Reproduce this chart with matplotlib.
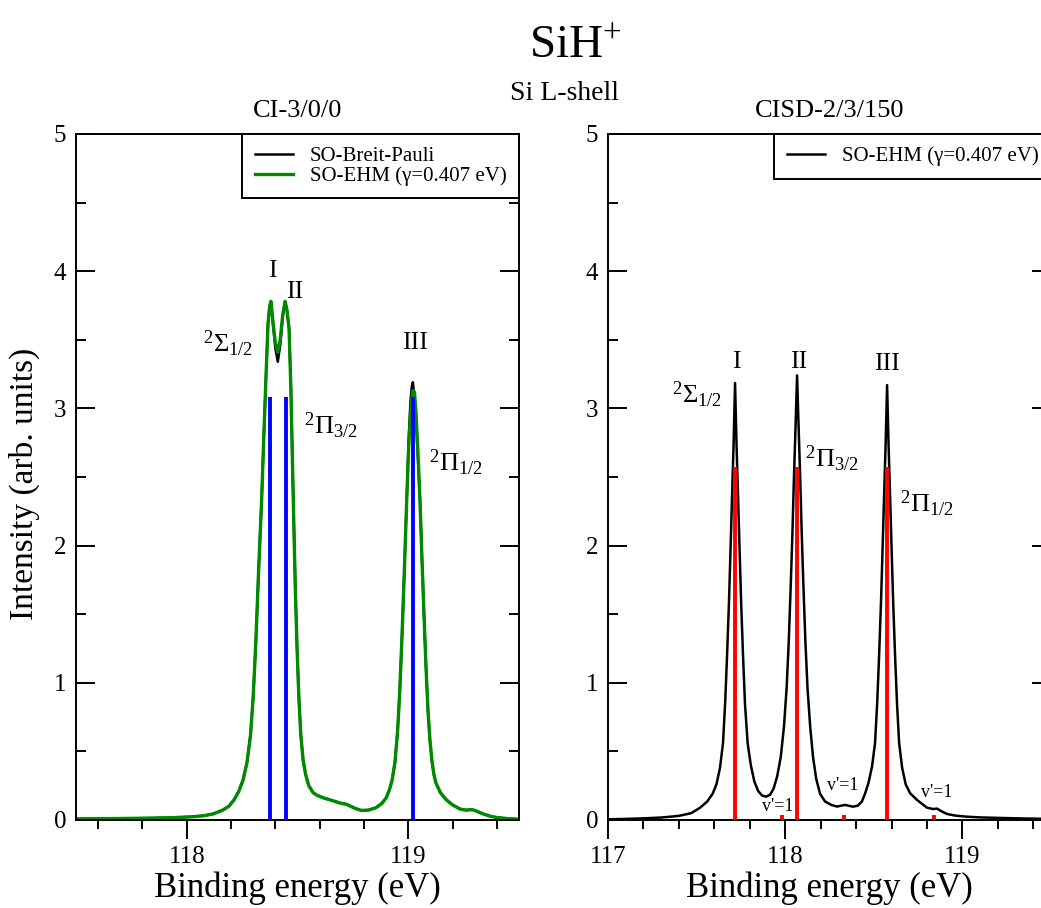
import matplotlib
matplotlib.use('Agg')
import matplotlib.pyplot as plt
from matplotlib.ticker import MultipleLocator

plt.rcParams['font.family'] = 'Liberation Serif'
plt.rcParams['mathtext.fontset'] = 'custom'
plt.rcParams['mathtext.rm'] = 'Liberation Serif'
plt.rcParams['mathtext.it'] = 'Liberation Serif:italic'

#---------------- left panel: CI-3/0/0 ----------------
e_left = [117.50, 117.70, 117.85, 117.95, 118.03, 118.08, 118.12, 118.16,
          118.19, 118.215, 118.235, 118.254, 118.272, 118.288, 118.300, 118.312,
          118.324, 118.338, 118.348, 118.357, 118.367, 118.374, 118.380, 118.390,
          118.400, 118.411, 118.422, 118.433, 118.444, 118.452, 118.462, 118.470,
          118.481, 118.490, 118.498, 118.506, 118.515, 118.525, 118.537, 118.551,
          118.570, 118.588, 118.620, 118.650, 118.680, 118.701, 118.720, 118.740,
          118.760, 118.787, 118.820, 118.855, 118.880, 118.900, 118.915, 118.927,
          118.940, 118.952, 118.962, 118.972, 118.982, 118.993, 119.002, 119.010,
          119.016, 119.021, 119.028, 119.035, 119.044, 119.053, 119.062, 119.071,
          119.080, 119.089, 119.098, 119.107, 119.116, 119.125, 119.145, 119.170,
          119.200, 119.234, 119.260, 119.280, 119.295, 119.315, 119.337, 119.370,
          119.400, 119.450, 119.500]
i_green = [0.008, 0.011, 0.014, 0.018, 0.024, 0.032, 0.045, 0.07,
           0.10, 0.15, 0.21, 0.29, 0.42, 0.62, 0.90, 1.30,
           1.80, 2.33, 2.80, 3.20, 3.62, 3.74, 3.78, 3.62,
           3.48, 3.41, 3.50, 3.68, 3.78, 3.72, 3.58, 3.15,
           2.33, 1.70, 1.25, 0.90, 0.62, 0.44, 0.33, 0.25,
           0.20, 0.18, 0.16, 0.145, 0.13, 0.12, 0.115, 0.10,
           0.085, 0.07, 0.072, 0.09, 0.12, 0.16, 0.22, 0.29,
           0.42, 0.65, 0.95, 1.35, 1.80, 2.33, 2.72, 2.95,
           3.07, 3.13, 3.12, 2.97, 2.67, 2.33, 1.90, 1.50,
           1.12, 0.80, 0.58, 0.43, 0.33, 0.27, 0.20, 0.15,
           0.11, 0.08, 0.072, 0.075, 0.073, 0.06, 0.045, 0.028,
           0.018, 0.010, 0.006]
i_black = [0.008, 0.011, 0.014, 0.018, 0.024, 0.032, 0.045, 0.07,
           0.10, 0.15, 0.21, 0.29, 0.42, 0.62, 0.90, 1.30,
           1.80, 2.33, 2.80, 3.20, 3.62, 3.74, 3.78, 3.60,
           3.44, 3.34, 3.46, 3.66, 3.78, 3.72, 3.58, 3.15,
           2.33, 1.70, 1.25, 0.90, 0.62, 0.44, 0.33, 0.25,
           0.20, 0.18, 0.16, 0.145, 0.13, 0.12, 0.115, 0.10,
           0.085, 0.07, 0.072, 0.09, 0.12, 0.16, 0.22, 0.29,
           0.42, 0.65, 0.95, 1.35, 1.80, 2.33, 2.78, 3.05,
           3.16, 3.19, 3.08, 2.92, 2.63, 2.33, 1.90, 1.50,
           1.12, 0.80, 0.58, 0.43, 0.33, 0.27, 0.20, 0.15,
           0.11, 0.08, 0.072, 0.075, 0.073, 0.06, 0.045, 0.028,
           0.018, 0.010, 0.006]
stick_left_e = [118.376, 118.448, 119.021]
stick_left_h = [3.08, 3.08, 3.08]

#---------------- right panel: CISD-2/3/150 ----------------
e_right = [117.000, 117.100, 117.200, 117.300, 117.400, 117.470, 117.520, 117.560,
           117.590, 117.612, 117.632, 117.649, 117.661, 117.672, 117.683, 117.693,
           117.701, 117.709, 117.717, 117.725, 117.733, 117.741, 117.751, 117.762,
           117.773, 117.788, 117.806, 117.826, 117.848, 117.870, 117.892, 117.915,
           117.935, 117.955, 117.975, 117.993, 118.008, 118.020, 118.031, 118.041,
           118.049, 118.058, 118.067, 118.076, 118.085, 118.093, 118.103, 118.114,
           118.126, 118.141, 118.157, 118.175, 118.197, 118.225, 118.260, 118.292,
           118.318, 118.337, 118.358, 118.383, 118.410, 118.433, 118.450, 118.470,
           118.490, 118.507, 118.519, 118.530, 118.541, 118.551, 118.559, 118.567,
           118.575, 118.583, 118.591, 118.599, 118.609, 118.620, 118.631, 118.643,
           118.660, 118.680, 118.705, 118.744, 118.800, 118.834, 118.857, 118.880,
           118.913, 118.960, 119.026, 119.100, 119.212, 119.350, 119.500]
i_right = [0.005, 0.008, 0.012, 0.018, 0.030, 0.050, 0.090, 0.135,
           0.190, 0.260, 0.380, 0.560, 0.850, 1.200, 1.600, 2.040,
           2.400, 2.750, 3.185, 2.750, 2.400, 2.040, 1.600, 1.200,
           0.850, 0.560, 0.400, 0.280, 0.210, 0.178, 0.170, 0.185,
           0.230, 0.320, 0.460, 0.680, 0.960, 1.300, 1.700, 2.100,
           2.480, 2.850, 3.240, 2.850, 2.480, 2.100, 1.700, 1.300,
           0.960, 0.680, 0.460, 0.300, 0.190, 0.135, 0.110, 0.098,
           0.105, 0.110, 0.104, 0.097, 0.105, 0.135, 0.190, 0.270,
           0.390, 0.560, 0.850, 1.200, 1.600, 2.040, 2.400, 2.750,
           3.170, 2.750, 2.400, 2.040, 1.600, 1.200, 0.850, 0.560,
           0.380, 0.260, 0.195, 0.146, 0.090, 0.080, 0.083, 0.065,
           0.044, 0.032, 0.024, 0.019, 0.015, 0.011, 0.008]
stick_right_e = [117.717, 118.067, 118.575]
stick_right_h = [2.57, 2.57, 2.57]
vib_e = [117.98, 118.334, 118.84]
vib_h = [0.035, 0.035, 0.035]

#---------------------------------------------------
fig = plt.figure(figsize=(10.41, 9.08), dpi=100)
W, H = 1041.0, 908.0
ax1 = fig.add_axes([76/W, 88/H, 443/W, 686/H])
ax2 = fig.add_axes([608/W, 88/H, 443/W, 686/H])

ax1.plot(e_left, i_black, color='black', lw=1.8, label='SO-Breit-Pauli')
ax1.plot(e_left, i_green, color='#008a00', lw=2.4, label='SO-EHM (γ=0.407 eV)')
ax1.vlines(stick_left_e, 0, stick_left_h, color='blue', lw=2.8, zorder=3)

ax2.plot(e_right, i_right, color='black', lw=1.8, label='SO-EHM (γ=0.407 eV)')
ax2.vlines(stick_right_e, 0, stick_right_h, color='red', lw=2.8, zorder=3)
ax2.vlines(vib_e, 0, vib_h, color='red', lw=2.8, zorder=3)

ax1.set_xlim(117.5, 119.5)
ax2.set_xlim(117, 119.5)

for ax in (ax1, ax2):
    ax.set_ylim(0, 5)
    ax.xaxis.set_major_locator(MultipleLocator(1))
    ax.xaxis.set_minor_locator(MultipleLocator(0.2))
    ax.yaxis.set_major_locator(MultipleLocator(1))
    ax.yaxis.set_minor_locator(MultipleLocator(0.5))
    ax.tick_params(axis='y', which='both', direction='in', left=True, right=True,
                   labelsize=18, width=1.4, pad=7)
    ax.tick_params(axis='y', which='major', length=14)
    ax.tick_params(axis='y', which='minor', length=7)
    ax.tick_params(axis='x', which='both', direction='out', top=False,
                   labelsize=18, width=1.4, pad=5)
    ax.tick_params(axis='x', which='major', length=14)
    ax.tick_params(axis='x', which='minor', length=6.5)
    for s in ax.spines.values():
        s.set_linewidth(1.4)
    ax.set_xlabel('Binding energy (eV)', fontsize=25, labelpad=2)
    leg = ax.legend(loc='upper right', borderaxespad=0, fancybox=False,
                    edgecolor='black', framealpha=1, fontsize=15,
                    handlelength=1.85, handletextpad=0.8, labelspacing=0.0,
                    borderpad=0.6)
    leg.get_frame().set_linewidth(1.4)

ax1.set_ylabel('Intensity (arb. units)', fontsize=24)
ax1.yaxis.set_label_coords(-0.082, 0.49)
ax1.set_title('CI-3/0/0', fontsize=19, pad=12)
ax2.set_title('CISD-2/3/150', fontsize=19, pad=12)

fig.text(575/W, 1 - 58/H, 'SiH$^{+}$', ha='center', va='baseline', fontsize=34)
fig.text(564/W, 1 - 100/H, 'Si L-shell', ha='center', va='baseline', fontsize=20)

# peak labels, left
ax1.text(118.385, 4.0, 'I', ha='center', va='center', fontsize=18.5)
ax1.text(118.486, 3.85, 'II', ha='center', va='center', fontsize=18.5)
ax1.text(119.03, 3.48, 'III', ha='center', va='center', fontsize=18.5)
ax1.text(118.186, 3.41, '$^{2}$Σ$_{1/2}$', ha='center', va='baseline', fontsize=19)
ax1.text(118.649, 2.81, '$^{2}$Π$_{3/2}$', ha='center', va='baseline', fontsize=19)
ax1.text(119.213, 2.54, '$^{2}$Π$_{1/2}$', ha='center', va='baseline', fontsize=19)

# peak labels, right
ax2.text(117.722, 3.34, 'I', ha='center', va='center', fontsize=18.5)
ax2.text(118.075, 3.34, 'II', ha='center', va='center', fontsize=18.5)
ax2.text(118.577, 3.32, 'III', ha='center', va='center', fontsize=18.5)
ax2.text(117.502, 3.04, '$^{2}$Σ$_{1/2}$', ha='center', va='baseline', fontsize=19)
ax2.text(118.261, 2.57, '$^{2}$Π$_{3/2}$', ha='center', va='baseline', fontsize=19)
ax2.text(118.797, 2.24, '$^{2}$Π$_{1/2}$', ha='center', va='baseline', fontsize=19)
ax2.text(117.959, 0.102, "v'=1", ha='center', va='center', fontsize=13)
ax2.text(118.326, 0.248, "v'=1", ha='center', va='center', fontsize=13)
ax2.text(118.857, 0.204, "v'=1", ha='center', va='center', fontsize=13)

fig.savefig('out.png', dpi=100)
